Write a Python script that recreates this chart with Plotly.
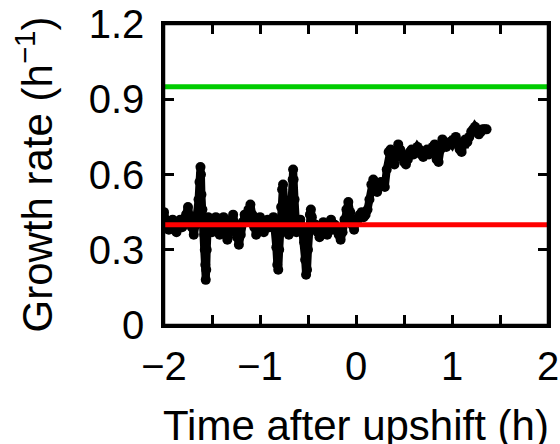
import plotly.graph_objects as go

# ---- data ----
time_h = [
    -2.00, -1.99, -1.97, -1.95, -1.93, -1.91, -1.89, -1.87, -1.85, -1.83,
    -1.81, -1.79, -1.77, -1.75, -1.73, -1.71, -1.69, -1.67, -1.65, -1.64,
    -1.63, -1.62, -1.615, -1.61, -1.60, -1.59, -1.58, -1.575, -1.57, -1.565,
    -1.56, -1.555, -1.55, -1.54, -1.52, -1.50, -1.48, -1.46, -1.44, -1.42,
    -1.40, -1.38, -1.36, -1.34, -1.32, -1.30, -1.28, -1.26, -1.24, -1.22,
    -1.20, -1.18, -1.16, -1.14, -1.12, -1.10, -1.08, -1.06, -1.04, -1.02,
    -1.00, -0.98, -0.96, -0.94, -0.92, -0.90, -0.88, -0.86, -0.84, -0.83,
    -0.82, -0.81, -0.80, -0.79, -0.78, -0.77, -0.76, -0.75, -0.74, -0.72,
    -0.70, -0.68, -0.67, -0.66, -0.655, -0.65, -0.64, -0.63, -0.62, -0.60,
    -0.58, -0.56, -0.54, -0.53, -0.52, -0.51, -0.50, -0.49, -0.48, -0.47,
    -0.46, -0.44, -0.42, -0.40, -0.38, -0.36, -0.34, -0.32, -0.30, -0.28,
    -0.26, -0.24, -0.22, -0.20, -0.18, -0.16, -0.14, -0.12, -0.10, -0.08,
    -0.06, -0.04, -0.02, 0.00, 0.02, 0.04, 0.06, 0.08, 0.10, 0.12,
    0.14, 0.16, 0.18, 0.20, 0.22, 0.24, 0.26, 0.28, 0.30, 0.32,
    0.34, 0.36, 0.38, 0.40, 0.42, 0.44, 0.46, 0.48, 0.50, 0.52,
    0.54, 0.56, 0.58, 0.60, 0.62, 0.64, 0.66, 0.68, 0.70, 0.72,
    0.74, 0.76, 0.78, 0.80, 0.82, 0.84, 0.86, 0.88, 0.90, 0.92,
    0.94, 0.96, 0.98, 1.00, 1.02, 1.04, 1.06, 1.08, 1.10, 1.12,
    1.14, 1.16, 1.18, 1.20, 1.22, 1.24, 1.26, 1.28, 1.30, 1.32,
    1.34, 1.36,
]
growth_rate = [
    0.45, 0.42, 0.40, 0.38, 0.40, 0.42, 0.39, 0.37, 0.40, 0.42,
    0.39, 0.41, 0.44, 0.47, 0.43, 0.39, 0.36, 0.40, 0.44, 0.50,
    0.57, 0.63, 0.60, 0.52, 0.46, 0.41, 0.36, 0.30, 0.24, 0.18,
    0.22, 0.30, 0.38, 0.43, 0.40, 0.37, 0.41, 0.43, 0.39, 0.36,
    0.40, 0.43, 0.38, 0.34, 0.37, 0.42, 0.44, 0.40, 0.35, 0.32,
    0.36, 0.41, 0.44, 0.42, 0.46, 0.48, 0.44, 0.39, 0.36, 0.40,
    0.43, 0.40, 0.37, 0.41, 0.42, 0.39, 0.40, 0.43, 0.38, 0.31,
    0.24, 0.22, 0.30, 0.40, 0.47, 0.54, 0.56, 0.50, 0.42, 0.38,
    0.36, 0.42, 0.50, 0.58, 0.62, 0.58, 0.50, 0.42, 0.37, 0.40,
    0.42, 0.38, 0.33, 0.26, 0.20, 0.22, 0.30, 0.38, 0.44, 0.46,
    0.43, 0.39, 0.40, 0.37, 0.35, 0.39, 0.41, 0.38, 0.36, 0.40,
    0.42, 0.38, 0.40, 0.39, 0.36, 0.34, 0.37, 0.42, 0.46, 0.49,
    0.45, 0.40, 0.38, 0.41, 0.42, 0.44, 0.45, 0.43, 0.44, 0.46,
    0.50, 0.56, 0.58, 0.55, 0.53, 0.55, 0.57, 0.56, 0.55, 0.62,
    0.69, 0.70, 0.66, 0.64, 0.69, 0.72, 0.70, 0.67, 0.65, 0.64,
    0.66, 0.69, 0.70, 0.68, 0.69, 0.71, 0.70, 0.68, 0.67, 0.69,
    0.70, 0.68, 0.69, 0.71, 0.72, 0.66, 0.65, 0.70, 0.74, 0.73,
    0.71, 0.72, 0.73, 0.72, 0.74, 0.75, 0.73, 0.70, 0.69, 0.72,
    0.74, 0.73, 0.75, 0.77, 0.78, 0.79, 0.78, 0.76, 0.77, 0.78,
    0.78, 0.78,
]
preshift_rate = 0.40
postshift_rate = 0.95
x_range = [-2, 2]
y_range = [0, 1.2]
x_ticks = [-2, -1, 0, 1, 2]
y_ticks = [0, 0.3, 0.6, 0.9, 1.2]
y_tick_text = ["0", "0.3", "0.6", "0.9", "1.2"]
x_tick_text = ["\u22122", "\u22121", "0", "1", "2"]

FONT = "Liberation Sans, Arial, Helvetica, sans-serif"

fig = go.Figure()
fig.add_trace(go.Scatter(
    x=time_h, y=growth_rate, mode="lines+markers",
    line=dict(color="black", width=8),
    marker=dict(color="black", size=10),
    showlegend=False, hoverinfo="skip"))
fig.add_trace(go.Scatter(
    x=x_range, y=[postshift_rate, postshift_rate], mode="lines",
    line=dict(color="#00CC00", width=5), showlegend=False, hoverinfo="skip"))
fig.add_trace(go.Scatter(
    x=x_range, y=[preshift_rate, preshift_rate], mode="lines",
    line=dict(color="#FF0000", width=5), showlegend=False, hoverinfo="skip"))
# empty trace that carries the top / right tick axes
fig.add_trace(go.Scatter(x=[], y=[], xaxis="x2", yaxis="y2",
                         showlegend=False, hoverinfo="skip"))

tick_style = dict(
    showline=True, linecolor="black", linewidth=2.5,
    ticks="inside", ticklen=10, tickwidth=2.5, tickcolor="black",
    showgrid=False, zeroline=False, automargin=False,
)
label_font = dict(family=FONT, size=40, color="black")

fig.update_layout(
    width=560, height=444,
    margin=dict(l=164, r=12, t=24, b=119),
    paper_bgcolor="white", plot_bgcolor="white",
    xaxis=dict(range=x_range, tickvals=x_ticks, ticktext=x_tick_text,
               minor=dict(ticks="inside", dtick=0.5, ticklen=10,
                          tickwidth=2.5, tickcolor="black"),
               ticklabelstandoff=4, ticklabeloverflow="allow",
               tickfont=label_font, mirror="ticks", **tick_style),
    yaxis=dict(range=y_range, tickvals=y_ticks, ticktext=y_tick_text,
               ticklabelstandoff=9, ticklabeloverflow="allow",
               tickfont=label_font, mirror="ticks", **tick_style),
    xaxis2=dict(range=x_range, tickvals=x_ticks, overlaying="x", side="top",
                anchor="y2", showticklabels=False,
                minor=dict(ticks="inside", dtick=0.5, ticklen=10,
                           tickwidth=2.5, tickcolor="black"),
                **tick_style),
    yaxis2=dict(range=y_range, tickvals=y_ticks, overlaying="y", side="right",
                anchor="x2", showticklabels=False, **tick_style),
    shapes=[
        dict(type="rect", xref="paper", yref="paper", x0=0, x1=1, y0=0, y1=1,
             line=dict(color="black", width=2.5), fillcolor="rgba(0,0,0,0)",
             layer="above"),
    ],
    annotations=[
        dict(text="Time after upshift (h)", xref="paper", yref="paper",
             x=0.501, y=-0.333, xanchor="center", yanchor="middle",
             showarrow=False, font=dict(family=FONT, size=42, color="black")),
        dict(text="Growth rate (h<sup>\u22121</sup>)", xref="paper", yref="paper",
             x=-0.3385, y=0.5, xanchor="center", yanchor="middle",
             textangle=-90, showarrow=False,
             font=dict(family=FONT, size=42, color="black")),
    ],
)

# remove the browser's default 8 px body margin so the figure fills the window
fig.write_html("out.html",
               config={"displayModeBar": False},
               post_script="document.body.style.margin='0';"
                           "document.body.style.overflow='hidden';")
